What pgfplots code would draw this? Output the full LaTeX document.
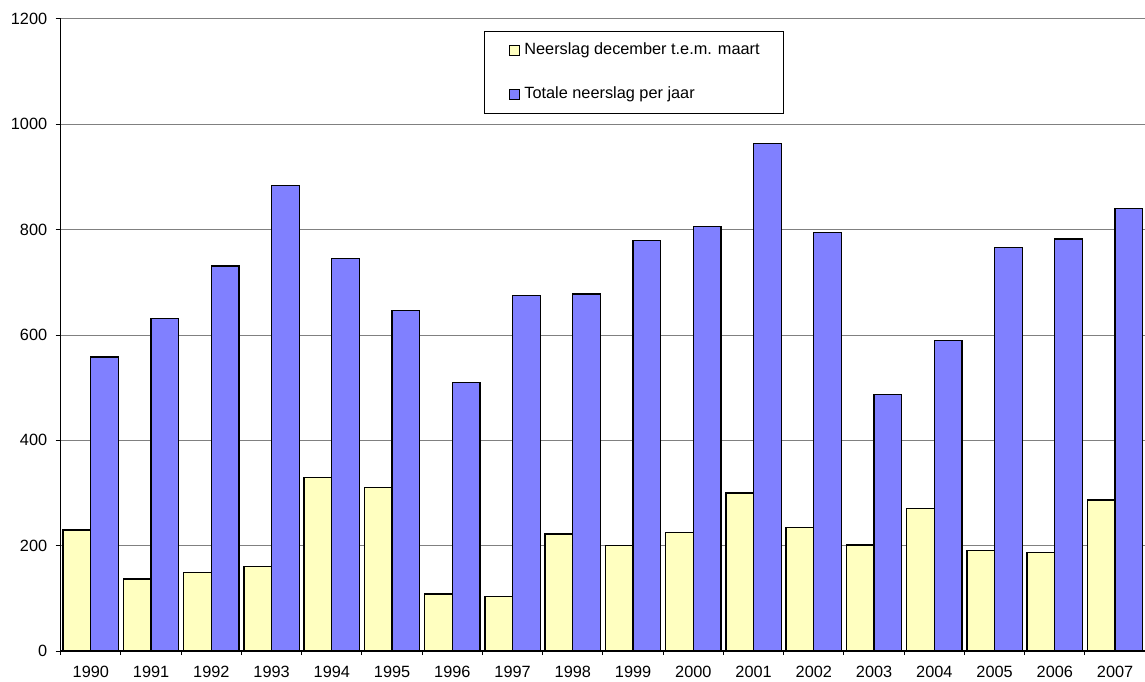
\documentclass[border=0pt]{standalone}
\usepackage{pgfplots}
\pgfplotsset{compat=1.18}
\usepackage{fontspec}
\setmainfont{Liberation Sans}
\definecolor{geel}{RGB}{255,255,192}
\definecolor{blauw}{RGB}{128,128,255}
\newcommand{\lbl}{\fontsize{16.3}{19.5}\selectfont}
\pgfplotsset{swatch/.style={legend image code/.code={\draw[##1,line width=0.8pt] (0pt,-5pt) rectangle (10pt,5pt);}}}
\begin{document}
\begin{tikzpicture}
\path[use as bounding box] (-60.7pt,-30pt) rectangle (1084.3pt,651pt);
\begin{axis}[
    scale only axis,
    width=1084.5pt, height=632pt,
    ybar=0pt,
    bar width=0.46,
    xmin=-0.5, xmax=17.5,
    ymin=0, ymax=1200,
    ytick={0,200,...,1200},
    xtick={0,...,17},
    xticklabels={1990,1991,1992,1993,1994,1995,1996,1997,1998,1999,2000,2001,2002,2003,2004,2005,2006,2007},
    minor xtick={-0.5,0.5,...,17.5},
    axis lines*=left,
    axis line style={line width=1.2pt},
    tick align=outside,
    major tick length=5pt,
    minor tick length=4pt,
    major x tick style={draw=none},
    minor x tick style={line width=1pt,black},
    major y tick style={line width=1pt,black},
    ymajorgrids,
    grid style={gray,line width=1pt},
    tick label style={font=\lbl},
    xticklabel style={inner sep=0pt, yshift=-10pt},
    yticklabel style={xshift=-5pt},
    /pgf/number format/assume math mode=true,
    /pgf/number format/1000 sep={},
    legend style={draw=black, line width=0.8pt, at={(0.3905,0.981)}, anchor=north west,
        font=\lbl, inner xsep=24pt, inner ysep=11pt, row sep=28pt, column sep=5pt,
        nodes={inner sep=0pt, text height=12pt, text depth=4pt}, cells={anchor=west}},
]
\addplot[fill=geel, draw=black, line width=1.3pt, bar shift=-0.23, swatch]
    coordinates {
    (0,230) (1,137) (2,149) (3,160) (4,329) (5,310) (6,108) (7,104) (8,222)
    (9,200) (10,225) (11,300) (12,234) (13,201) (14,270) (15,191) (16,187) (17,287)
};
\addplot[fill=blauw, draw=black, line width=1.3pt, bar shift=0.23, swatch]
    coordinates {
    (0,558) (1,631) (2,731) (3,884) (4,745) (5,647) (6,510) (7,675) (8,678)
    (9,779) (10,806) (11,964) (12,794) (13,487) (14,589) (15,766) (16,782) (17,840)
};
\legend{Neerslag december t.e.m. maart, Totale neerslag per jaar}
\end{axis}
\end{tikzpicture}
\end{document}
